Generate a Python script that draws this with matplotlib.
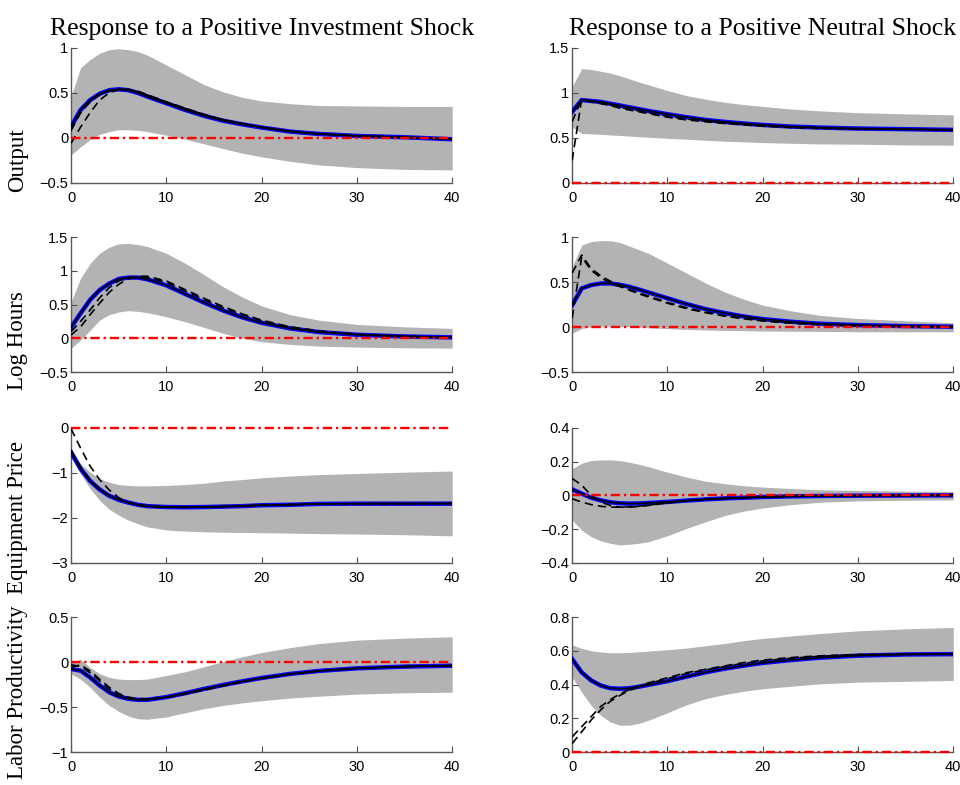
import numpy as np
import matplotlib
matplotlib.use('Agg')
import matplotlib.pyplot as plt
from matplotlib.ticker import FuncFormatter

plt.rcParams['font.family'] = ['Liberation Sans', 'DejaVu Sans']

# horizons (quarters)
h = [0, 1, 2, 3, 4, 5, 6, 7, 8, 10, 12, 14, 16, 18, 20, 23, 26, 30, 35, 40]

titles = ['Response to a Positive Investment Shock', 'Response to a Positive Neutral Shock']
row_labels = ['Output', 'Log Hours', 'Equipment Price', 'Labor Productivity']

# Output, investment shock
out_inv_up = [0.46, 0.78, 0.87, 0.94, 0.98, 0.99, 0.98, 0.96, 0.92, 0.81, 0.70, 0.59, 0.51, 0.45, 0.41, 0.38, 0.36, 0.355, 0.35, 0.35]
out_inv_lo = [-0.19, -0.10, -0.02, 0.04, 0.07, 0.09, 0.09, 0.085, 0.07, 0.03, -0.015, -0.067, -0.12, -0.17, -0.21, -0.26, -0.30, -0.33, -0.35, -0.356]
out_inv = [0.126, 0.31, 0.42, 0.49, 0.53, 0.54, 0.53, 0.50, 0.46, 0.385, 0.31, 0.244, 0.19, 0.15, 0.115, 0.07, 0.044, 0.022, 0.007, -0.015]
out_inv_d1 = [-0.06, 0.12, 0.28, 0.42, 0.50, 0.54, 0.54, 0.52, 0.48, 0.40, 0.33, 0.26, 0.20, 0.16, 0.12, 0.075, 0.045, 0.022, 0.008, -0.01]
out_inv_d2 = [0.08, 0.28, 0.40, 0.48, 0.52, 0.54, 0.535, 0.51, 0.475, 0.395, 0.325, 0.255, 0.20, 0.155, 0.12, 0.073, 0.045, 0.022, 0.008, -0.012]

# Output, neutral shock
out_neu_up = [1.07, 1.27, 1.26, 1.24, 1.22, 1.19, 1.156, 1.12, 1.09, 1.026, 0.97, 0.93, 0.896, 0.87, 0.85, 0.82, 0.80, 0.78, 0.767, 0.756]
out_neu_lo = [0.62, 0.55, 0.545, 0.54, 0.533, 0.527, 0.52, 0.513, 0.507, 0.496, 0.485, 0.474, 0.463, 0.456, 0.448, 0.44, 0.433, 0.43, 0.422, 0.419]
out_neu = [0.79, 0.92, 0.91, 0.90, 0.88, 0.86, 0.84, 0.82, 0.80, 0.763, 0.73, 0.70, 0.678, 0.66, 0.644, 0.626, 0.615, 0.604, 0.597, 0.589]
out_neu_d1 = [0.25, 0.93, 0.90, 0.88, 0.86, 0.83, 0.81, 0.79, 0.77, 0.73, 0.70, 0.68, 0.66, 0.645, 0.63, 0.615, 0.605, 0.60, 0.595, 0.589]
out_neu_d2 = [0.68, 0.93, 0.91, 0.89, 0.865, 0.84, 0.82, 0.80, 0.78, 0.74, 0.71, 0.685, 0.665, 0.65, 0.635, 0.62, 0.61, 0.60, 0.595, 0.589]

# Log hours, investment shock
hrs_inv_up = [0.54, 0.89, 1.11, 1.26, 1.35, 1.40, 1.405, 1.39, 1.36, 1.26, 1.11, 0.94, 0.76, 0.61, 0.48, 0.35, 0.27, 0.206, 0.17, 0.147]
hrs_inv_lo = [-0.15, -0.026, 0.12, 0.27, 0.35, 0.39, 0.41, 0.40, 0.38, 0.32, 0.245, 0.16, 0.073, 0.0, -0.05, -0.09, -0.115, -0.13, -0.14, -0.145]
hrs_inv = [0.162, 0.37, 0.57, 0.715, 0.81, 0.88, 0.90, 0.90, 0.875, 0.785, 0.656, 0.527, 0.41, 0.31, 0.23, 0.147, 0.093, 0.053, 0.028, 0.014]
hrs_inv_d1 = [0.05, 0.17, 0.35, 0.52, 0.68, 0.80, 0.88, 0.92, 0.92, 0.85, 0.72, 0.59, 0.47, 0.36, 0.27, 0.17, 0.11, 0.06, 0.03, 0.015]
hrs_inv_d2 = [0.10, 0.25, 0.42, 0.60, 0.75, 0.85, 0.90, 0.91, 0.905, 0.83, 0.70, 0.57, 0.45, 0.35, 0.26, 0.165, 0.105, 0.058, 0.03, 0.015]

# Log hours, neutral shock
hrs_neu_up = [0.67, 0.91, 0.95, 0.96, 0.96, 0.94, 0.90, 0.86, 0.82, 0.71, 0.60, 0.49, 0.39, 0.31, 0.244, 0.18, 0.13, 0.096, 0.07, 0.048]
hrs_neu_lo = [-0.07, -0.015, 0.004, 0.011, 0.011, 0.008, 0.004, -0.002, -0.007, -0.018, -0.026, -0.033, -0.037, -0.04, -0.044, -0.046, -0.048, -0.052, -0.052, -0.052]
hrs_neu = [0.244, 0.43, 0.467, 0.485, 0.485, 0.47, 0.448, 0.417, 0.385, 0.32, 0.256, 0.20, 0.156, 0.118, 0.089, 0.059, 0.037, 0.022, 0.011, 0.004]
hrs_neu_d1 = [0.60, 0.80, 0.65, 0.57, 0.51, 0.47, 0.42, 0.38, 0.345, 0.275, 0.215, 0.168, 0.128, 0.097, 0.072, 0.046, 0.029, 0.016, 0.008, 0.003]
hrs_neu_d2 = [0.10, 0.78, 0.63, 0.55, 0.49, 0.45, 0.41, 0.37, 0.335, 0.265, 0.205, 0.16, 0.122, 0.092, 0.068, 0.044, 0.027, 0.015, 0.007, 0.003]

# Equipment price, investment shock
eqp_inv_up = [-0.50, -0.80, -0.985, -1.13, -1.21, -1.26, -1.28, -1.29, -1.29, -1.28, -1.26, -1.23, -1.18, -1.15, -1.11, -1.07, -1.04, -1.015, -0.985, -0.96]
eqp_inv_lo = [-0.65, -1.02, -1.35, -1.61, -1.81, -1.94, -2.05, -2.13, -2.2, -2.27, -2.295, -2.31, -2.32, -2.325, -2.33, -2.34, -2.35, -2.36, -2.375, -2.40]
eqp_inv = [-0.54, -0.91, -1.18, -1.37, -1.51, -1.60, -1.66, -1.71, -1.74, -1.76, -1.765, -1.76, -1.75, -1.74, -1.72, -1.71, -1.69, -1.685, -1.685, -1.685]
eqp_inv_d1 = [-0.02, -0.45, -0.85, -1.15, -1.38, -1.55, -1.66, -1.72, -1.75, -1.765, -1.765, -1.76, -1.75, -1.735, -1.72, -1.705, -1.69, -1.685, -1.685, -1.68]
eqp_inv_d2 = [-0.50, -0.88, -1.16, -1.36, -1.50, -1.59, -1.65, -1.70, -1.735, -1.755, -1.76, -1.755, -1.745, -1.735, -1.72, -1.705, -1.69, -1.685, -1.685, -1.68]

# Equipment price, neutral shock
eqp_neu_up = [0.157, 0.19, 0.206, 0.21, 0.21, 0.206, 0.196, 0.184, 0.17, 0.137, 0.108, 0.084, 0.069, 0.057, 0.049, 0.04, 0.033, 0.029, 0.025, 0.023]
eqp_neu_lo = [-0.147, -0.206, -0.245, -0.27, -0.284, -0.294, -0.29, -0.284, -0.275, -0.24, -0.196, -0.157, -0.12, -0.094, -0.075, -0.055, -0.041, -0.033, -0.029, -0.027]
eqp_neu = [0.035, 0.01, -0.014, -0.03, -0.041, -0.047, -0.049, -0.048, -0.045, -0.039, -0.031, -0.024, -0.018, -0.014, -0.01, -0.006, -0.004, -0.002, -0.001, 0.0]
eqp_neu_d1 = [0.10, 0.06, 0.0, -0.04, -0.06, -0.07, -0.07, -0.066, -0.06, -0.045, -0.033, -0.025, -0.019, -0.014, -0.01, -0.006, -0.004, -0.002, -0.001, 0.0]
eqp_neu_d2 = [-0.02, -0.04, -0.055, -0.065, -0.07, -0.07, -0.068, -0.064, -0.058, -0.044, -0.032, -0.024, -0.018, -0.014, -0.01, -0.006, -0.004, -0.002, -0.001, 0.0]

# Labor productivity, investment shock
lp_inv_up = [0.0, 0.03, -0.06, -0.13, -0.17, -0.19, -0.195, -0.195, -0.19, -0.15, -0.107, -0.052, 0.007, 0.058, 0.106, 0.16, 0.205, 0.243, 0.265, 0.28]
lp_inv_lo = [-0.132, -0.19, -0.28, -0.39, -0.482, -0.548, -0.60, -0.63, -0.636, -0.61, -0.563, -0.518, -0.482, -0.453, -0.43, -0.40, -0.38, -0.357, -0.342, -0.335]
lp_inv = [-0.077, -0.096, -0.17, -0.26, -0.335, -0.383, -0.408, -0.42, -0.42, -0.39, -0.346, -0.298, -0.254, -0.214, -0.177, -0.132, -0.099, -0.07, -0.051, -0.041]
lp_inv_d1 = [-0.03, -0.05, -0.12, -0.21, -0.30, -0.36, -0.40, -0.415, -0.415, -0.395, -0.355, -0.31, -0.265, -0.222, -0.183, -0.136, -0.10, -0.07, -0.05, -0.04]
lp_inv_d2 = [-0.06, -0.03, -0.10, -0.19, -0.28, -0.35, -0.39, -0.41, -0.41, -0.39, -0.35, -0.305, -0.26, -0.218, -0.18, -0.134, -0.10, -0.07, -0.05, -0.04]

# Labor productivity, neutral shock
lp_neu_up = [0.634, 0.614, 0.60, 0.593, 0.588, 0.588, 0.59, 0.594, 0.598, 0.606, 0.616, 0.63, 0.643, 0.66, 0.673, 0.688, 0.702, 0.718, 0.73, 0.738]
lp_neu_lo = [0.443, 0.355, 0.276, 0.218, 0.178, 0.159, 0.159, 0.17, 0.188, 0.233, 0.28, 0.316, 0.341, 0.36, 0.375, 0.39, 0.404, 0.414, 0.419, 0.424]
lp_neu = [0.551, 0.472, 0.424, 0.394, 0.378, 0.375, 0.378, 0.387, 0.398, 0.42, 0.447, 0.472, 0.494, 0.512, 0.528, 0.545, 0.559, 0.571, 0.578, 0.58]
lp_neu_d1 = [0.09, 0.15, 0.21, 0.27, 0.31, 0.345, 0.37, 0.39, 0.41, 0.44, 0.47, 0.49, 0.51, 0.53, 0.545, 0.56, 0.57, 0.578, 0.58, 0.58]
lp_neu_d2 = [0.05, 0.12, 0.19, 0.25, 0.30, 0.335, 0.365, 0.385, 0.405, 0.435, 0.465, 0.487, 0.507, 0.525, 0.54, 0.556, 0.567, 0.576, 0.579, 0.58]

panels = [
    [(out_inv_lo, out_inv_up, out_inv, out_inv_d1, out_inv_d2, (-0.5, 1), 0.5),
     (out_neu_lo, out_neu_up, out_neu, out_neu_d1, out_neu_d2, (0, 1.5), 0.5)],
    [(hrs_inv_lo, hrs_inv_up, hrs_inv, hrs_inv_d1, hrs_inv_d2, (-0.5, 1.5), 0.5),
     (hrs_neu_lo, hrs_neu_up, hrs_neu, hrs_neu_d1, hrs_neu_d2, (-0.5, 1), 0.5)],
    [(eqp_inv_lo, eqp_inv_up, eqp_inv, eqp_inv_d1, eqp_inv_d2, (-3, 0), 1),
     (eqp_neu_lo, eqp_neu_up, eqp_neu, eqp_neu_d1, eqp_neu_d2, (-0.4, 0.4), 0.2)],
    [(lp_inv_lo, lp_inv_up, lp_inv, lp_inv_d1, lp_inv_d2, (-1, 0.5), 0.5),
     (lp_neu_lo, lp_neu_up, lp_neu, lp_neu_d1, lp_neu_d2, (0, 0.8), 0.2)],
]

fig = plt.figure(figsize=(9.6, 7.85), dpi=100)

lefts = [0.074, 0.596]
bottoms = [0.767, 0.526, 0.283, 0.042]
W, H = 0.397, 0.172
serif = ['Liberation Serif', 'DejaVu Serif']
# row label centres (fraction of figure height, from the bottom)
label_y = [1 - 160 / 785, 1 - 341 / 785, 1 - 517 / 785, 1 - 692 / 785]

fmt = FuncFormatter(lambda v, p: ('%g' % round(v, 6)).replace('-', '\u2212'))

for r in range(4):
    for c in range(2):
        lo, up, mid, d1, d2, ylim, step = panels[r][c]
        ax = fig.add_axes([lefts[c], bottoms[r], W, H])
        ax.fill_between(h, lo, up, color='#b3b3b3', lw=0, zorder=1)
        ax.plot([0, 40], [0, 0], color='red', lw=1.7, dashes=(4, 1.6, 1, 1.6), zorder=6, clip_on=False)
        ax.plot(h, mid, color='blue', lw=3.2, zorder=3)
        ax.plot(h, mid, color='black', lw=1.2, zorder=4)
        ax.plot(h, d1, color='black', lw=1.2, dashes=(5, 3), zorder=5)
        ax.plot(h, d2, color='black', lw=1.2, dashes=(5, 3), zorder=5)
        ax.set_xlim(0, 40)
        ax.set_ylim(*ylim)
        ax.set_xticks([0, 10, 20, 30, 40])
        ax.set_yticks(np.arange(ylim[0], ylim[1] + step / 2, step))
        ax.yaxis.set_major_formatter(fmt)
        ax.tick_params(direction='in', length=4, width=0.8, color='0.3', labelsize=10.5)
        ax.tick_params(axis='x', pad=6)
        ax.tick_params(axis='y', pad=2)
        for s in ['top', 'right']:
            ax.spines[s].set_visible(False)
        for s in ['left', 'bottom']:
            ax.spines[s].set_color('0.35')
            ax.spines[s].set_linewidth(1.0)
        if r == 0:
            ax.set_title(titles[c], fontsize=18.5, family=serif, pad=9)
    fig.text(18 / 960, label_y[r], row_labels[r], rotation=90, ha='center', va='center',
             fontsize=16.5, family=serif)

fig.savefig('out.png', dpi=100)
